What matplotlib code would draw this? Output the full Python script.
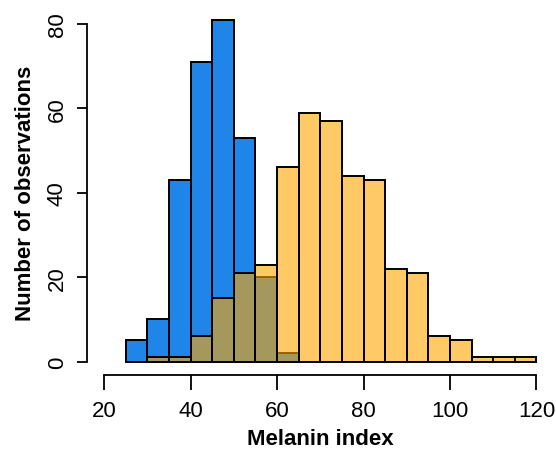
import matplotlib.pyplot as plt
import numpy as np

plt.rcParams['font.family'] = ['Liberation Sans', 'DejaVu Sans']

# bin edges (width 5) and counts
blue_edges = [25, 30, 35, 40, 45, 50, 55, 60, 65]
blue_counts = [5, 10, 43, 71, 81, 53, 20, 2]

orange_edges = [30, 35, 40, 45, 50, 55, 60, 65, 70, 75, 80, 85, 90, 95,
                100, 105, 110, 115, 120]
orange_counts = [1, 1, 6, 15, 21, 23, 46, 59, 57, 44, 43, 22, 21, 6, 5, 1, 1, 1]

x_ticks = [20, 40, 60, 80, 100, 120]
y_ticks = [0, 20, 40, 60, 80]

fig = plt.figure(figsize=(5.56, 4.52), dpi=100)
ax = fig.add_axes([0.156, 0.168, 0.84, 0.8065])

bw = np.diff(blue_edges)
ax.bar(blue_edges[:-1], blue_counts, width=bw, align='edge',
       color='#1F85E8', edgecolor='black', linewidth=1.4, zorder=2)

ow = np.diff(orange_edges)
ax.bar(orange_edges[:-1], orange_counts, width=ow, align='edge',
       color=(1.0, 0.647, 0.0, 0.6), edgecolor='black', linewidth=1.4, zorder=3)

ax.set_xlim(16, 124)
ax.set_ylim(-3.2, 83.2)

for s in ['top', 'right']:
    ax.spines[s].set_visible(False)
ax.spines['left'].set_bounds(0, 80)
ax.spines['bottom'].set_bounds(20, 120)
ax.spines['left'].set_linewidth(1.3)
ax.spines['bottom'].set_linewidth(1.3)

ax.set_xticks(x_ticks)
ax.set_yticks(y_ticks)
ax.tick_params(axis='x', direction='out', length=11, width=1.3, labelsize=16, pad=7)
ax.tick_params(axis='y', direction='out', length=7.5, width=1.3, labelsize=16, pad=6)
plt.setp(ax.get_yticklabels(), rotation=90, va='center')

ax.set_xlabel('Melanin index', fontsize=16, fontweight='bold', va='center')
ax.set_ylabel('Number of observations', fontsize=16, fontweight='bold', va='center')
ax.xaxis.set_label_coords(0.5, -0.175)
ax.yaxis.set_label_coords(-0.132, 0.5)

fig.savefig('out.png', dpi=100)
